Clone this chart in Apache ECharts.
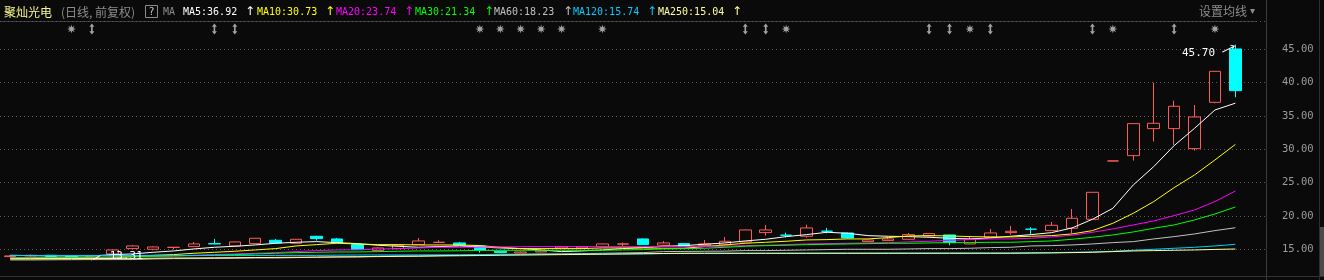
<!DOCTYPE html>
<html><head><meta charset="utf-8">
<script src="https://cdn.jsdelivr.net/npm/echarts@6/dist/echarts.min.js"></script>
<style>html,body{margin:0;padding:0;background:#0a0a0a;}#c{width:1324px;height:280px;}</style>
</head><body><div id="c"></div>
<script>
// ---- data ----
const days = Array.from({length: 61}, (_, k) => 'D' + (k + 1));
const opens = [13.9,14.0,14.1,13.95,13.8,14.3,15.1,15.0,15.28,15.4,
  15.85,15.5,15.85,16.35,15.9,16.95,16.55,15.7,14.8,15.1,
  15.7,16.03,15.95,15.5,14.7,14.45,14.6,15.2,15.2,15.4,
  15.78,16.55,15.6,15.85,15.55,15.65,16.1,17.5,17.12,16.95,
  17.72,17.45,16.15,16.3,16.5,17.0,17.15,15.8,16.8,17.5,
  18.02,17.8,18.15,19.5,28.25,29.05,33.1,33.1,30.1,37.05,
  45.05];
const closes = [14.0,14.1,13.95,13.85,14.0,14.9,15.5,15.35,15.3,15.8,
  15.8,16.1,16.65,15.95,16.5,16.6,16.0,14.95,15.2,15.6,
  16.25,16.05,15.6,14.9,14.5,14.6,14.75,15.4,15.4,15.8,
  15.8,15.7,15.95,15.4,15.8,16.2,17.9,17.9,17.1,18.2,
  17.7,16.7,16.4,16.55,17.2,17.35,16.0,16.5,17.45,17.7,
  18.0,18.6,19.65,23.55,28.25,33.85,33.9,36.45,34.85,41.7,
  38.8];
const lows = [13.8,13.9,13.85,13.7,13.31,14.2,15.05,14.85,15.0,15.35,
  15.75,15.45,15.8,15.9,15.85,16.3,15.95,14.9,14.75,15.05,
  15.65,16.0,15.55,14.5,14.45,14.4,14.55,15.15,15.15,15.35,
  15.5,15.65,15.55,15.35,15.5,15.6,16.05,17.05,16.8,16.75,
  17.4,16.6,16.1,16.25,16.45,16.95,15.6,15.75,16.75,17.2,
  17.3,17.75,17.4,19.45,28.25,28.3,31.15,30.6,29.8,36.9,
  37.8];
const highs = [14.1,14.2,14.15,14.0,14.05,15.0,15.65,15.45,15.32,16.1,
  16.55,16.15,16.7,16.55,16.55,17.0,16.7,15.75,15.3,15.65,
  16.7,16.35,16.1,15.55,14.75,14.7,14.8,15.45,15.45,15.85,
  16.0,16.65,16.25,15.9,16.4,16.85,17.95,18.65,17.5,18.7,
  18.2,17.5,16.45,16.8,17.45,17.45,17.2,17.0,18.05,18.5,
  18.3,19.1,21.05,23.6,28.25,33.9,40.0,37.3,36.65,41.75,
  45.7];
const ma5 = [14.1,14.05,14.0,14.0,14.0,14.2,14.3,14.55,14.75,15.05,
  15.3,15.45,15.65,15.9,16.05,16.15,16.0,15.85,15.6,15.45,
  15.3,15.4,15.5,15.35,15.2,15.1,14.9,14.65,14.75,14.9,
  15.1,15.25,15.45,15.55,15.75,15.95,16.25,16.5,16.9,17.2,
  17.55,17.4,17.05,16.95,16.9,16.8,16.65,16.55,16.7,16.95,
  17.2,17.5,18.2,19.5,21.15,24.65,27.4,30.55,33.15,35.9,
  36.92];
const ma10 = [13.6,13.6,13.62,13.63,13.65,13.7,13.9,14.1,14.2,14.4,
  14.55,14.7,14.9,15.1,15.5,15.7,15.9,15.8,15.7,15.7,
  15.65,15.65,15.65,15.55,15.3,15.1,15.1,15.1,15.1,15.2,
  15.2,15.2,15.15,15.15,15.4,15.65,15.9,16.05,16.2,16.4,
  16.45,16.55,16.55,16.75,17.0,17.05,17.0,16.9,16.85,16.85,
  16.95,17.05,17.3,17.8,18.9,20.4,22.15,24.25,26.15,28.4,
  30.73];
const ma20 = [13.75,13.75,13.78,13.8,13.8,13.85,13.9,13.95,14.0,14.1,
  14.2,14.3,14.4,14.5,14.65,14.8,14.9,14.92,15.05,15.08,
  15.2,15.3,15.3,15.32,15.35,15.38,15.4,15.4,15.4,15.4,
  15.4,15.4,15.4,15.4,15.42,15.45,15.55,15.6,15.7,15.8,
  15.85,15.9,15.95,16.0,16.1,16.2,16.35,16.45,16.55,16.55,
  16.65,16.85,17.1,17.55,18.05,18.65,19.25,20.05,20.9,22.15,
  23.74];
const ma30 = [13.7,13.72,13.74,13.76,13.78,13.85,13.9,13.95,14.0,14.05,
  14.12,14.2,14.3,14.4,14.5,14.55,14.6,14.6,14.65,14.7,
  14.75,14.75,14.78,14.82,14.85,14.85,14.85,14.85,14.85,14.85,
  14.9,14.95,15.05,15.1,15.15,15.3,15.45,15.55,15.6,15.7,
  15.75,15.8,15.85,15.9,15.9,15.95,16.0,16.0,16.05,16.05,
  16.15,16.25,16.5,16.8,17.15,17.6,18.15,18.65,19.4,20.3,
  21.34];
const ma60 = [13.4,13.4,13.42,13.44,13.45,13.45,13.46,13.55,13.6,13.6,
  13.62,13.65,13.7,13.7,13.75,13.8,13.85,13.85,13.95,14.0,
  14.0,14.05,14.1,14.2,14.25,14.25,14.3,14.3,14.35,14.4,
  14.45,14.5,14.65,14.68,14.7,14.72,14.8,14.8,14.85,14.9,
  14.95,15.0,15.0,15.0,15.05,15.1,15.1,15.15,15.25,15.3,
  15.5,15.55,15.65,15.8,16.0,16.15,16.55,16.9,17.3,17.8,
  18.23];
const ma120 = [14.05,14.05,14.05,14.05,14.06,14.06,14.06,14.07,14.07,14.07,
  14.08,14.08,14.08,14.08,14.08,14.08,14.12,14.14,14.15,14.15,
  14.16,14.17,14.18,14.2,14.2,14.22,14.24,14.25,14.27,14.28,
  14.3,14.32,14.35,14.38,14.4,14.4,14.4,14.4,14.41,14.41,
  14.42,14.42,14.42,14.43,14.43,14.43,14.44,14.44,14.45,14.45,
  14.5,14.5,14.55,14.6,14.7,14.85,15.0,15.15,15.3,15.5,
  15.74];
const ma250 = [13.55,13.56,13.57,13.58,13.6,13.62,13.64,13.66,13.68,13.7,
  13.72,13.74,13.76,13.78,13.8,13.82,13.85,13.88,13.9,13.93,
  13.96,14.0,14.03,14.06,14.1,14.13,14.16,14.2,14.23,14.26,
  14.3,14.33,14.37,14.4,14.4,14.4,14.4,14.4,14.4,14.4,
  14.4,14.4,14.4,14.4,14.4,14.4,14.4,14.4,14.4,14.4,
  14.42,14.45,14.5,14.55,14.65,14.75,14.8,14.85,14.9,14.98,
  15.04];
const starDays = [3,23,24,25,26,27,29,38,47,54,59];
const arrowDays = [4,10,11,36,37,45,46,48,53,57];
const yTicks = {min: 10, max: 49.25, step: 5};

// ---- styles ----
const BG = '#0a0a0a';
const UP = '#ff5a5a', DOWN = '#00ffff';
const maDefs = [
  ['MA5', ma5, '#ffffff', 183, 245],
  ['MA10', ma10, '#ffff00', 257, 325],
  ['MA20', ma20, '#ff00ff', 336, 404],
  ['MA30', ma30, '#00ff00', 415, 484],
  ['MA60', ma60, '#c0c0c0', 494, 563],
  ['MA120', ma120, '#00ccff', 573, 647],
  ['MA250', ma250, '#ffff99', 658, 732]
];
const cats = days.concat(['']);
const candle = opens.map((o, k) => [o, closes[k], lows[k], highs[k]]);
const MONO = 'DejaVu Sans Mono';
const CJK = 'Noto Sans CJK SC';

const graphics = [
  {type:'line', shape:{x1:0,y1:21.5,x2:1257,y2:21.5}, style:{stroke:'#3a3a3a',lineWidth:1}, silent:true},
  {type:'line', shape:{x1:1266.5,y1:0,x2:1266.5,y2:280}, style:{stroke:'#3a3a3a',lineWidth:1}, silent:true},
  {type:'line', shape:{x1:0,y1:276.5,x2:1324,y2:276.5}, style:{stroke:'#333333',lineWidth:1}, silent:true},
  {type:'line', shape:{x1:1319.5,y1:0,x2:1319.5,y2:280}, style:{stroke:'#2e2e2e',lineWidth:1}, silent:true},
  {type:'rect', shape:{x:1320,y:227,width:4,height:49}, style:{fill:'#4a4a4a'}, silent:true},
  {type:'text', x:4, y:12, style:{text:'聚灿光电', fill:'#f5f58c', font:'12px "' + CJK + '"', verticalAlign:'middle'}},
  {type:'text', x:61, y:12, style:{text:'(日线, 前复权)', fill:'#8c8c8c', font:'12px "' + CJK + '"', verticalAlign:'middle'}},
  {type:'rect', shape:{x:145.5,y:5.5,width:12,height:12}, style:{fill:'none',stroke:'#8c8c8c',lineWidth:1}},
  {type:'text', x:151.5, y:12, style:{text:'?', fill:'#c8c8c8', font:'10px "' + MONO + '"', align:'center', verticalAlign:'middle'}},
  {type:'text', x:163, y:12, style:{text:'MA', fill:'#8c8c8c', font:'10px "' + MONO + '"', verticalAlign:'middle'}},
  {type:'text', x:1199, y:11, style:{text:'设置均线', fill:'#8c8c8c', font:'12px "' + CJK + '"', verticalAlign:'middle'}},
  {type:'text', x:1250, y:11, style:{text:'▾', fill:'#8c8c8c', font:'10px "DejaVu Sans"', verticalAlign:'middle'}}
];
maDefs.forEach(([name, arr, color, tx, ax]) => {
  graphics.push({type:'text', x:tx, y:12, style:{text: name + ':' + arr[arr.length-1].toFixed(2), fill:color, font:'10px "' + MONO + '"', verticalAlign:'middle'}});
  graphics.push({type:'text', x:ax, y:12, style:{text:'↑', fill:color, font:'12px "DejaVu Sans"', verticalAlign:'middle'}});
});

const STAR = 'path://M10,5 L7.03,5.84 L8.54,8.54 L5.84,7.03 L5,10 L4.16,7.03 L1.46,8.54 L2.97,5.84 L0,5 L2.97,4.16 L1.46,1.46 L4.16,2.97 L5,0 L5.84,2.97 L8.54,1.46 L7.03,4.16 Z';
const UPDOWN = 'path://M3,0 L6,3.5 L4,3.5 L4,8.5 L6,8.5 L3,12 L0,8.5 L2,8.5 L2,3.5 L0,3.5 Z';

const series = [{
  type:'candlestick', name:'K', xAxisIndex:0, yAxisIndex:0, data:candle, barWidth:12, z:2,
  itemStyle:{color:'transparent', color0:DOWN, borderColor:UP, borderColor0:DOWN, borderWidth:1},
  markPoint:{
    silent:true,
    data:[
      {type:'max', valueDim:'highest', symbol:'path://M0,8 L12,1 M8,0 L12,1 L10,4', symbolSize:[12,7], symbolOffset:[-7,4],
       itemStyle:{color:'none', borderColor:'#ffffff', borderWidth:1},
       label:{show:true, position:'left', distance:4, offset:[0,4], color:'#ffffff', fontFamily:MONO, fontSize:11, formatter:p=>p.value.toFixed(2)}},
      {type:'min', valueDim:'lowest', symbol:'path://M10,0 L0,6', symbolSize:[7,4], symbolOffset:[5,-3],
       itemStyle:{color:'none', borderColor:'#ffffff', borderWidth:1},
       label:{show:true, position:'right', distance:6, offset:[0,-1], color:'#ffffff', fontFamily:MONO, fontSize:11, formatter:p=>p.value.toFixed(2)}}
    ]
  }
}];
maDefs.forEach(([name, arr, color]) => {
  series.push({type:'line', name:name, data:arr, xAxisIndex:0, yAxisIndex:0, symbol:'none', z:3,
    lineStyle:{color:color, width:1}, silent:true, animation:false});
});
series.push({type:'scatter', xAxisIndex:1, yAxisIndex:1, symbol:STAR, symbolSize:9,
  itemStyle:{color:'#c8c8c8'}, data:starDays.map(d => [d, 0.5]), silent:true});
series.push({type:'scatter', xAxisIndex:1, yAxisIndex:1, symbol:UPDOWN, symbolSize:[5,11],
  itemStyle:{color:'#c8c8c8'}, data:arrowDays.map(d => [d, 0.5]), silent:true});

const chart = echarts.init(document.getElementById('c'), null, {renderer:'canvas'});
chart.setOption({
  backgroundColor: BG,
  animation:false,
  graphic: graphics,
  grid:[
    {left:0, width:1266, top:21, height:261.6, show:false, outerBoundsMode:'none', containLabel:false},
    {left:0, width:1266, top:22, height:14, show:false, outerBoundsMode:'none', containLabel:false}
  ],
  xAxis:[
    {type:'category', data:cats, gridIndex:0, boundaryGap:true, axisLine:{show:false}, axisTick:{show:false}, axisLabel:{show:false}, splitLine:{show:false}},
    {type:'category', data:cats, gridIndex:1, boundaryGap:true, show:false}
  ],
  yAxis:[
    {type:'value', gridIndex:0, position:'right', min:yTicks.min, max:yTicks.max, interval:yTicks.step, scale:true,
     axisLine:{show:false}, axisTick:{show:false},
     axisLabel:{color:'#9c9c9c', fontFamily:MONO, fontSize:10.5, margin:16, formatter:v => v.toFixed(2), showMaxLabel:false, showMinLabel:false},
     splitLine:{show:true, lineStyle:{color:'#5a5a5a', type:[1,3], width:1}}},
    {type:'value', gridIndex:1, min:0, max:1, show:false}
  ],
  series: series
});
</script>
</body></html>
